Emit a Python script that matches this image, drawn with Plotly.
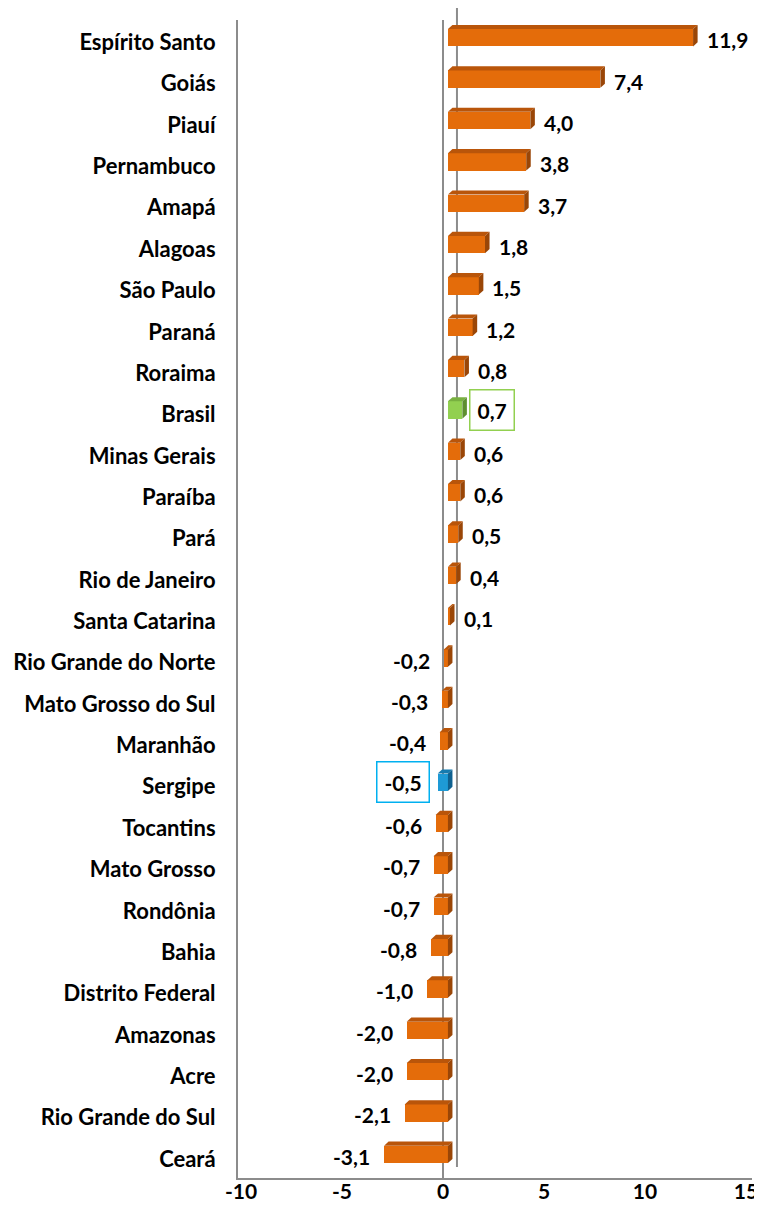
import plotly.graph_objects as go

states = ["Espírito Santo", "Goiás", "Piauí", "Pernambuco", "Amapá", "Alagoas",
          "São Paulo", "Paraná", "Roraima", "Brasil", "Minas Gerais", "Paraíba",
          "Pará", "Rio de Janeiro", "Santa Catarina", "Rio Grande do Norte",
          "Mato Grosso do Sul", "Maranhão", "Sergipe", "Tocantins", "Mato Grosso",
          "Rondônia", "Bahia", "Distrito Federal", "Amazonas", "Acre",
          "Rio Grande do Sul", "Ceará"]
values = [11.9, 7.4, 4.0, 3.8, 3.7, 1.8, 1.5, 1.2, 0.8, 0.7, 0.6, 0.6, 0.5, 0.4, 0.1,
          -0.2, -0.3, -0.4, -0.5, -0.6, -0.7, -0.7, -0.8, -1.0, -2.0, -2.0, -2.1, -3.1]
x_ticks = [-10, -5, 0, 5, 10, 15]

FONT = "Lato"
GRAY = "#8c8c8c"
PALETTE = {
    "default": dict(front="#E46C0A", top="#B9550A", side="#9A4607"),
    "Brasil": dict(front="#92D050", top="#78B040", side="#5E8F30"),
    "Sergipe": dict(front="#1E9AD6", top="#157BB0", side="#0F6190"),
}
BOX = {"Brasil": "#92D050", "Sergipe": "#00B0F0"}

n = len(states)
ypos = [n - 1 - i for i in range(n)]
H = 0.42      # front face height (y units)
YOFF = 0.07   # front face shifted up
DX = 0.22     # depth in x2 units
DY = 0.10     # depth in y units

fig = go.Figure()

# invisible trace so the tick axis (x) gets drawn
fig.add_trace(go.Scatter(x=values, y=ypos, mode="none", xaxis="x", yaxis="y",
                         hoverinfo="skip", showlegend=False))

cols = [PALETTE.get(s, PALETTE["default"]) for s in states]
fig.add_trace(go.Bar(
    x=values, y=[y + YOFF for y in ypos], base=0, orientation="h", width=H,
    marker=dict(color=[c["front"] for c in cols], line=dict(width=0)),
    xaxis="x2", yaxis="y", hoverinfo="skip", showlegend=False))

shapes = []
for v, y, c in zip(values, ypos, cols):
    yb = y + YOFF - H / 2
    yt = y + YOFF + H / 2
    x0, x1 = min(0, v), max(0, v)
    shapes.append(dict(type="path", xref="x2", yref="y", layer="above",
                       path=f"M{x0},{yt} L{x1},{yt} L{x1+DX},{yt+DY} L{x0+DX},{yt+DY} Z",
                       fillcolor=c["top"], line=dict(width=0)))
    shapes.append(dict(type="path", xref="x2", yref="y", layer="above",
                       path=f"M{x1},{yb} L{x1},{yt} L{x1+DX},{yt+DY} L{x1+DX},{yb+DY} Z",
                       fillcolor=c["side"], line=dict(width=0)))

# back-wall zero line
shapes.append(dict(type="line", xref="paper", yref="paper", x0=0.426, x1=0.426,
                   y0=0.0095, y1=1.0104, line=dict(color=GRAY, width=2), layer="below"))

annotations = []
for s, v, y in zip(states, values, ypos):
    txt = f"{v:.1f}".replace(".", ",")
    a = dict(xref="x2", yref="y", y=y, yshift=1, text=txt, showarrow=False,
             font=dict(family=FONT, size=21, color="black", weight="bold"))
    if v >= 0:
        a.update(x=v + DX, xanchor="left", xshift=7)
    else:
        a.update(x=v, xanchor="right", xshift=-12)
    if s in BOX:
        a.update(bordercolor=BOX[s], borderwidth=1.5, borderpad=7, yshift=3)
        if v >= 0:
            a.update(xshift=2)
        else:
            a.update(xshift=-8)
    annotations.append(a)

fig.update_layout(
    width=754, height=1208,
    margin=dict(l=230, r=10, t=12, b=38, autoexpand=False),
    paper_bgcolor="white", plot_bgcolor="white",
    shapes=shapes, annotations=annotations,
    bargap=0,
    xaxis=dict(range=[-10.15, 15.3], tickvals=x_ticks, ticktext=[str(t) for t in x_ticks],
               showgrid=False, zeroline=True, zerolinecolor=GRAY, zerolinewidth=2,
               showline=True, linecolor=GRAY, linewidth=2, ticks="", automargin=False,
               ticklabelstandoff=-6,
               tickfont=dict(family=FONT, size=21, color="black", weight="bold")),
    xaxis2=dict(range=[-10.19, 14.76], overlaying="x", anchor="y", visible=False,
                showgrid=False, zeroline=False),
    yaxis=dict(range=[-0.5, n - 0.5], tickvals=[y - 0.04 for y in ypos], ticktext=states,
               showgrid=False, zeroline=False, showline=True, linecolor=GRAY,
               linewidth=2, ticks="", ticklabelstandoff=16, automargin=False,
               tickfont=dict(family=FONT, size=22, color="black", weight="bold")),
)

fig.write_html("out.html")
